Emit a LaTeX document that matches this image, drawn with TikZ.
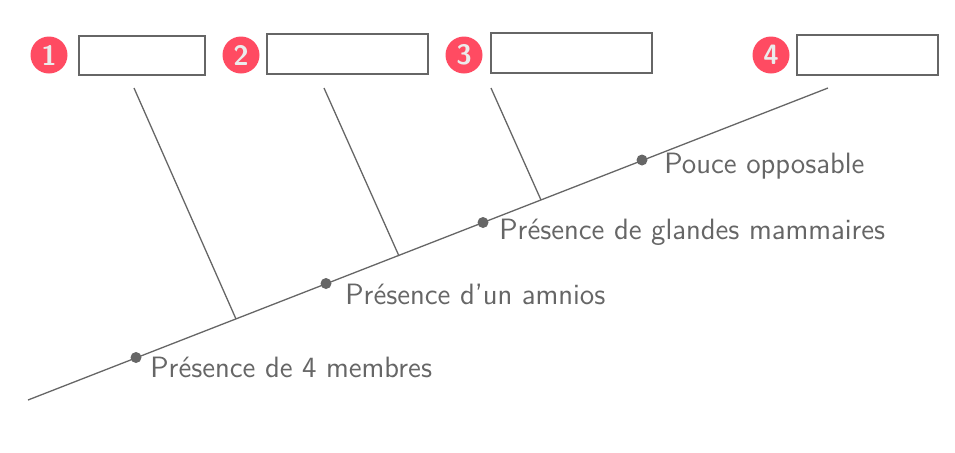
\documentclass[tikz,border=0pt]{standalone}
\usepackage{tikz}
\usetikzlibrary{positioning}

\definecolor{trait}{HTML}{666666}
\definecolor{rouge}{HTML}{FF4B62}

\tikzset{
  numero/.style={circle, fill=rouge, text=white!92!black, inner sep=0pt, minimum size=18.5pt,
    font=\sffamily\bfseries\fontsize{14}{14}\selectfont},
  caseVide/.style={draw=trait, line width=0.9pt, inner sep=0pt},
  point/.style={circle, fill=trait, inner sep=0pt, minimum size=5.5pt},
  caractere/.style={text=trait, inner sep=0pt, font=\sffamily\fontsize{14.7}{15}\selectfont},
}

\begin{document}
\begin{tikzpicture}[x=0.5pt,y=-0.5pt]
\useasboundingbox (0,0) rectangle (955,452);
% boites du haut
\node[numero] (n1) at (49,55) {1};
\node[caseVide, minimum width=63pt, minimum height=19.5pt] (b1) at (142,55.5) {};
\node[numero] (n2) at (241,55) {2};
\node[caseVide, minimum width=80.5pt, minimum height=20pt] (b2) at (347.5,54) {};
\node[numero] (n3) at (464,55) {3};
\node[caseVide, minimum width=80.5pt, minimum height=20pt] (b3) at (571.5,53) {};
\node[numero] (n4) at (771,55) {4};
\node[caseVide, minimum width=70.5pt, minimum height=20pt] (b4) at (867.5,55) {};
% axe principal
\coordinate (debut) at (28,400);
\coordinate (fin) at (828,88);
\draw[trait, line width=0.65pt] (debut) -- (fin);
% branches
\coordinate (h1) at (134,88);
\coordinate (h2) at (324,88);
\coordinate (h3) at (491,88);
\coordinate (p1) at (236,319);
\coordinate (p2) at (399,256);
\coordinate (p3) at (541,200);
\draw[trait, line width=0.65pt] (h1) -- (p1);
\draw[trait, line width=0.65pt] (h2) -- (p2);
\draw[trait, line width=0.65pt] (h3) -- (p3);
% caracteres
\node[point] (d1) at (136,357.5) {};
\node[point] (d2) at (326,283.5) {};
\node[point] (d3) at (483,222.5) {};
\node[point] (d4) at (642,160) {};
\node[caractere, anchor=west] (c1) at (150,367) {Présence de 4 membres};
\node[caractere, anchor=west] (c2) at (345,294) {Présence d’un amnios};
\node[caractere, anchor=west] (c3) at (499,232) {Présence de glandes mammaires};
\node[caractere, anchor=west] (c4) at (664,166) {Pouce opposable};
\end{tikzpicture}
\end{document}
